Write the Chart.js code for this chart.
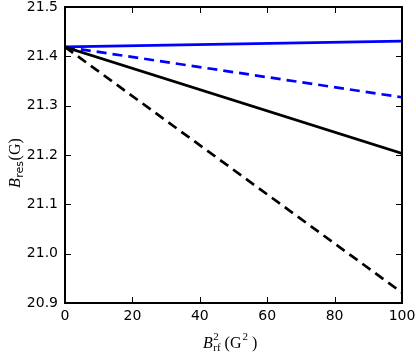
<!DOCTYPE html>
<html>
<head>
<meta charset="utf-8">
<script src="https://cdn.jsdelivr.net/npm/chart.js@4/dist/chart.umd.min.js"></script>
<style>
html,body{margin:0;padding:0;background:#fff;}
#wrap{width:416px;height:354px;}
</style>
</head>
<body>
<div id="wrap"><canvas id="c" width="416" height="354"></canvas></div>
<script>
// Data
const xValues = [0, 100];
const blueSolid = [21.419, 21.431];
const blueDashed = [21.419, 21.317];
const blackSolid = [21.419, 21.203];
const blackDashed = [21.419, 20.921];
const xTicks = [0, 20, 40, 60, 80, 100];
const yTicks = [20.9, 21.0, 21.1, 21.2, 21.3, 21.4, 21.5];

function pts(ys){ return xValues.map((x,i)=>({x:x,y:ys[i]})); }

const frameAndTicks = {
  id:'frameAndTicks',
  afterDatasetsDraw(chart){
    const ctx = chart.ctx, a = chart.chartArea;
    const xs = chart.scales.x, ys = chart.scales.y;
    ctx.save();
    ctx.strokeStyle = '#000';
    ctx.lineWidth = 1;
    const L = 6;
    xTicks.forEach(v=>{
      const p = Math.round(xs.getPixelForValue(v))+0.5;
      ctx.beginPath();
      ctx.moveTo(p,a.bottom); ctx.lineTo(p,a.bottom-L);
      ctx.moveTo(p,a.top); ctx.lineTo(p,a.top+L);
      ctx.stroke();
    });
    yTicks.forEach(v=>{
      const p = Math.round(ys.getPixelForValue(v))+0.5;
      ctx.beginPath();
      ctx.moveTo(a.left,p); ctx.lineTo(a.left+L,p);
      ctx.moveTo(a.right,p); ctx.lineTo(a.right-L,p);
      ctx.stroke();
    });
    ctx.lineWidth = 2;
    ctx.strokeRect(a.left, a.top, a.right-a.left, a.bottom-a.top);
    // axis titles
    ctx.fillStyle = '#000';
    ctx.textBaseline = 'alphabetic';
    // x title: B_rf^2 (G^2 )
    let x = 203, y = 348;
    ctx.font = 'italic 16px "Liberation Serif"';
    ctx.textAlign = 'left';
    ctx.fillText('B', x, y); x += ctx.measureText('B').width + 0.5;
    ctx.font = '11px "Liberation Serif"';
    ctx.fillText('rf', x, y+3);
    ctx.fillText('2', x, y-8);
    x += ctx.measureText('rf').width + 4;
    ctx.font = '16px "Liberation Serif"';
    ctx.fillText('(G', x, y); x += ctx.measureText('(G').width + 1;
    ctx.font = '11px "Liberation Serif"';
    ctx.fillText('2', x, y-8); x += ctx.measureText('2').width + 4;
    ctx.font = '16px "Liberation Serif"';
    ctx.fillText(')', x, y);
    // y title: B_res(G), rotated
    ctx.save();
    ctx.translate(20, 188);
    ctx.rotate(-Math.PI/2);
    x = 0; y = 0;
    ctx.font = 'italic 16px "Liberation Serif"';
    ctx.fillText('B', x, y); x += ctx.measureText('B').width + 0.5;
    ctx.font = '11px "DejaVu Sans"';
    ctx.fillText('res', x, y+3); x += ctx.measureText('res').width + 0.5;
    ctx.font = '16px "Liberation Serif"';
    ctx.fillText('(G)', x, y);
    ctx.restore();
    ctx.restore();
  }
};

const tickFont = {family:'"DejaVu Sans"', size:14};

new Chart(document.getElementById('c'), {
  type:'scatter',
  data:{
    datasets:[
      {data:pts(blackDashed), borderColor:'#000', borderWidth:2.7, borderDash:[10,6], showLine:true, pointRadius:0},
      {data:pts(blackSolid), borderColor:'#000', borderWidth:2.7, showLine:true, pointRadius:0},
      {data:pts(blueDashed), borderColor:'#0000ff', borderWidth:2.7, borderDash:[10,6], showLine:true, pointRadius:0},
      {data:pts(blueSolid), borderColor:'#0000ff', borderWidth:2.7, showLine:true, pointRadius:0}
    ]
  },
  options:{
    responsive:false,
    animation:false,
    layout:{padding:{top:7, right:14, left:0, bottom:0}},
    plugins:{legend:{display:false}, tooltip:{enabled:false}},
    scales:{
      x:{
        type:'linear', min:0, max:100,
        afterBuildTicks(s){ s.ticks = xTicks.map(v=>({value:v})); },
        grid:{display:false, drawTicks:false},
        border:{display:false},
        ticks:{font:tickFont, color:'#000', padding:5, maxRotation:0, callback:v=>String(v)},
        afterFit(s){ s.height = 51; s.paddingLeft = 0; s.paddingRight = 0; }
      },
      y:{
        type:'linear', min:20.9, max:21.5,
        afterBuildTicks(s){ s.ticks = yTicks.map(v=>({value:v})); },
        grid:{display:false, drawTicks:false},
        border:{display:false},
        ticks:{font:tickFont, color:'#000', padding:7, callback:v=>Number(v).toFixed(1)},
        afterFit(s){ s.width = 65; s.paddingTop = 0; s.paddingBottom = 0; }
      }
    }
  },
  plugins:[frameAndTicks]
});
</script>
</body>
</html>
